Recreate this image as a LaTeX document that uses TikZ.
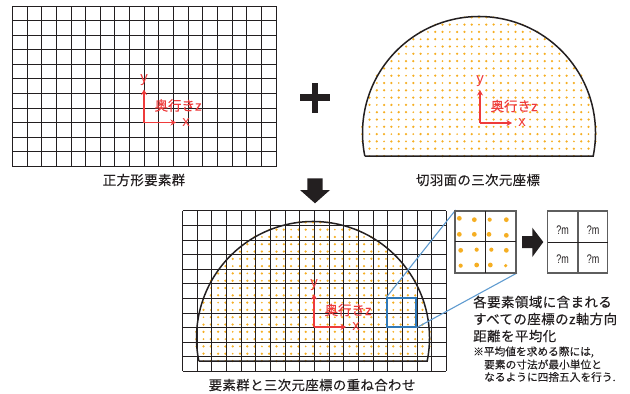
\documentclass[tikz,border=0pt]{standalone}
\usepackage{fontspec}
\usetikzlibrary{arrows.meta}
\setmainfont{Liberation Sans}
\newfontfamily\jp[FakeBold=0.25]{Noto Sans CJK JP}
\newfontfamily\jpsp[LetterSpace=3,FakeBold=0.3]{Noto Sans CJK JP}
\definecolor{axred}{HTML}{EE3B3B}
\definecolor{dotor}{HTML}{F5AE22}
\definecolor{sqblue}{HTML}{2F78B7}
\definecolor{lnblue}{HTML}{5F9BD0}
\definecolor{inkk}{HTML}{231F20}
\definecolor{edgegray}{HTML}{5E5E5E}
\tikzset{
  x=1pt,y=-1pt,
  gridln/.style={draw=inkk,line width=1pt},
  edgeln/.style={draw=edgegray,line width=1.3pt},
  innerln/.style={draw=inkk,line width=1pt},
  domeln/.style={draw=inkk,line width=1.5pt},
  axln/.style={draw=axred,line width=1.3pt,-{Stealth[length=5.5pt,width=6pt]}},
  axlab/.style={text=axred,font=\fontsize{15}{15}\selectfont,inner sep=0pt},
  zlab/.style={text=axred,font=\jp\fontsize{13.5}{14}\selectfont,inner sep=0pt},
  captxt/.style={text=inkk,font=\jpsp\fontsize{13.4}{14}\selectfont,inner sep=0pt},
  bodytxt/.style={text=inkk,font=\jpsp\fontsize{13.5}{14}\selectfont,inner sep=0pt,anchor=west},
  smalltxt/.style={text=inkk,font=\jp\fontsize{10.7}{11}\selectfont,inner sep=0pt,anchor=west},
  fat/.style={fill=inkk,draw=none},
  mval/.style={text=inkk,font=\fontsize{12.5}{13}\selectfont,inner sep=0pt},
}
\newcommand{\gridat}[2]{% x0,y0
  \foreach \i in {0,...,18}{\draw[gridln] ({#1+\i*14.65},{#2}) -- ({#1+\i*14.65},{#2+160.5});}
  \foreach \j in {0,...,11}{\draw[gridln] ({#1},{#2+\j*14.59}) -- ({#1+263.7},{#2+\j*14.59});}
}
\newcommand{\domeclosed}[2]{%
  \draw[domeln] (#1-114.2,#2) -- (#1+114.2,#2)
    arc[start angle=11.4,end angle=-191.4,radius=116.5] -- cycle;
}
\newcommand{\dotfield}[2]{%
  \foreach \i in {-16,...,16}{\foreach \j in {0,...,19}{%
    \pgfmathtruncatemacro\ok{veclen(\i*7.3,23-\j*7.3)<117.5?1:0}%
    \ifnum\ok=1
      \pgfmathsetmacro\rr{mod(abs(\i)+\j,3)==0?0.95:1.25}%
      \fill[dotor] ({#1+\i*7.3},{#2-\j*7.3}) circle[radius=\rr];
    \fi
  }}
}
\newcommand{\axes}[3]{% origin x,y, name prefix
  \coordinate (#3o) at (#1,#2);
  \coordinate (#3y) at (#1,#2-33);
  \coordinate (#3x) at (#1+32,#2);
  \draw[axln] (#3o) -- (#3y);
  \draw[axln] (#3o) -- (#3x);
  \node[axlab] (#3yl) at (#1,#2-42) {y};
  \node[axlab] (#3xl) at (#1+42,#2) {x};
  \node[zlab] (#3zl) at (#1+34,#2-17) {奥行きz};
}
\newcommand{\qm}{\scalebox{0.72}[1]{?m}}
\begin{document}
\begin{tikzpicture}
\useasboundingbox (0,0) rectangle (630,394);
% top left
\gridat{12.4}{6}
\axes{144}{122.5}{a}
\node[captxt] (c1) at (144,180) {正方形要素群};
% plus
\fill[inkk] (311.7,82.7) rectangle (318.3,112.7);
\fill[inkk] (300,94) rectangle (329.7,101.3);
% top right
\dotfield{479}{156}
\domeclosed{479}{156}
\axes{480}{123}{b}
\node[captxt] (c2) at (478,180) {切羽面の三次元座標};
% down arrow
\fill[fat] (307.3,178.3) -- (322.7,178.3) -- (322.7,190) -- (330,190) -- (315,203.3) -- (300,190) -- (307.3,190) -- cycle;
% overlay
\dotfield{313}{361}
\domeclosed{313}{361}
\gridat{182.6}{210.9}
\axes{314}{327}{c}
\node[captxt] (c3) at (312,385) {要素群と三次元座標の重ね合わせ};
% blue square
\node[draw=sqblue,line width=1.3pt,minimum width=29pt,minimum height=29pt,inner sep=0pt] (sq) at (401.5,312.5) {};
% inset
\coordinate (ia) at (455,211); \coordinate (ib) at (516,273);
\coordinate (ic) at (455.6,210); \coordinate (id) at (517,273);
\draw[lnblue,line width=1.1pt] (sq.north west) -- (ic);
\draw[lnblue,line width=1.1pt] (sq.south east) -- (id);
\draw[edgeln] (ia) rectangle (ib);
\draw[innerln] (485.7,211) -- (485.7,273);
\draw[innerln] (455,241.8) -- (516,241.8);
\foreach \a/\b/\r in {58/55/2.4,103/59/2.4,149/59/2.1,199/59/2.4,58/103/2.4,103/103/2.4,147/103/2.4,199/106/2.4,62/151/2.4,110/149/2.1,154/149/2.1,199/151/2.4,62/197/2.1,110/195/2.4,151/195/2.4,197/197/1.8}{
  \fill[dotor] ({440+\a/3},{200+\b/3}) circle[radius=\r];
}
% fat right arrow
\fill[fat] (522,236) -- (532.3,236) -- (532.3,227.7) -- (543.3,242) -- (532.3,257) -- (532.3,248) -- (522,248) -- cycle;
% result grid
\draw[edgeln] (547.7,211) rectangle (607.7,273);
\draw[edgeln] (578,211) -- (578,273);
\draw[innerln] (547.7,242) -- (607.7,242);
\node[mval] (m1) at (562.5,230) {\qm};
\node[mval] (m2) at (593,230) {\qm};
\node[mval] (m3) at (562.5,259) {\qm};
\node[mval] (m4) at (593,259) {\qm};
% text
\node[bodytxt] (t1) at (473,302) {各要素領域に含まれる};
\node[bodytxt] (t2) at (473,319) {すべての座標のz軸方向};
\node[bodytxt] (t3) at (473,336) {距離を平均化};
\node[smalltxt] (t4) at (473,352) {※平均値を求める際には,};
\node[smalltxt] (t5) at (484,364.5) {要素の寸法が最小単位と};
\node[smalltxt] (t6) at (484,377) {なるように四捨五入を行う.};
\end{tikzpicture}
\end{document}
